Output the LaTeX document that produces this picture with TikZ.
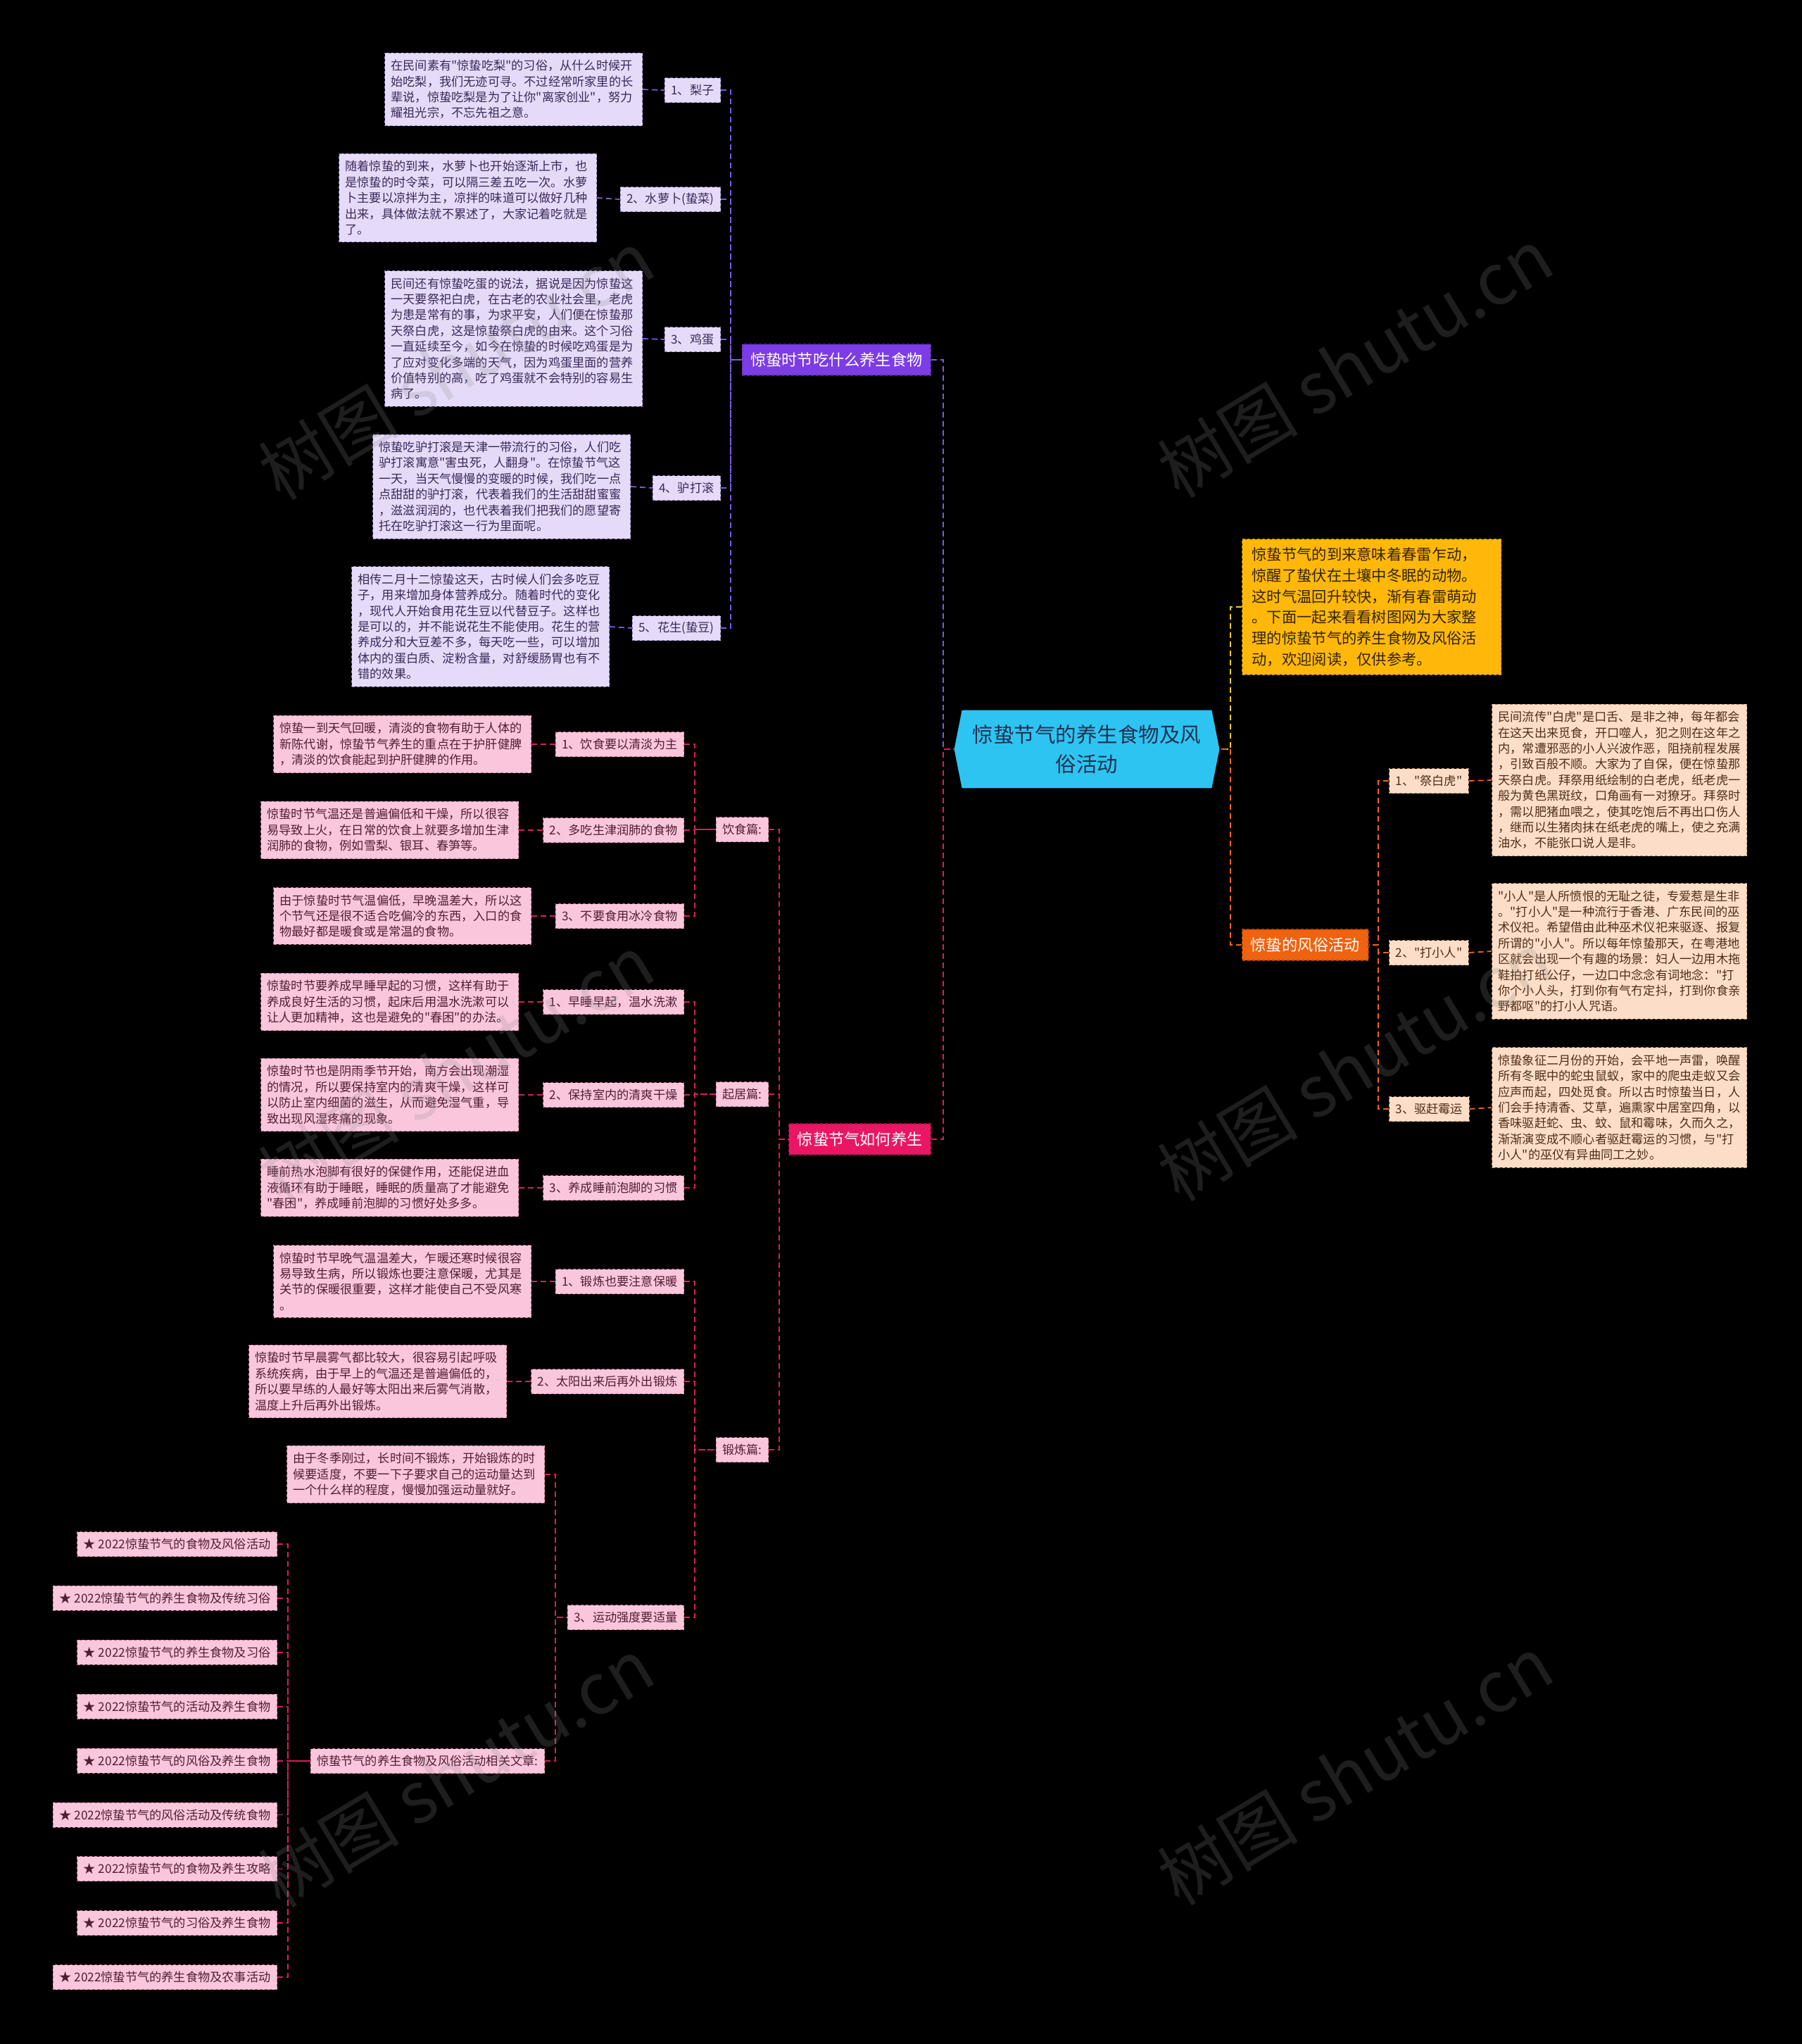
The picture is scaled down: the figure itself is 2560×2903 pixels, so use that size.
\documentclass[tikz,border=0pt]{standalone}
\usepackage{fontspec}
\setmainfont[Ligatures=TeXOff]{Noto Sans CJK SC}
\usetikzlibrary{backgrounds,calc}
\definecolor{PFill}{RGB}{229,219,248}
\definecolor{PBord}{RGB}{140,120,180}
\definecolor{PText}{RGB}{60,40,90}
\definecolor{PLine}{RGB}{125,90,225}
\definecolor{PMain}{RGB}{124,60,230}
\definecolor{KFill}{RGB}{250,198,220}
\definecolor{KBord}{RGB}{190,110,140}
\definecolor{KText}{RGB}{80,30,50}
\definecolor{KLine}{RGB}{215,30,95}
\definecolor{KMain}{RGB}{233,22,100}
\definecolor{OFill}{RGB}{252,222,200}
\definecolor{OBord}{RGB}{190,140,110}
\definecolor{OText}{RGB}{80,45,25}
\definecolor{OLine}{RGB}{240,100,30}
\definecolor{OMain}{RGB}{240,98,14}
\definecolor{YMain}{RGB}{255,184,10}
\definecolor{YLine}{RGB}{255,200,40}
\definecolor{YText}{RGB}{50,35,0}
\definecolor{RootFill}{RGB}{46,196,242}
\definecolor{RootText}{RGB}{30,50,80}
\definecolor{WM}{RGB}{140,140,140}
\newcommand\dfont{\fontsize{8.6pt}{11.2pt}\selectfont}
\newcommand\mfont{\fontsize{11.1pt}{13pt}\selectfont}
\newcommand\ifont{\fontsize{10.65pt}{14.85pt}\selectfont}
\newcommand\rfont{\fontsize{14.75pt}{21pt}\selectfont}
\tikzset{
  box/.style={rectangle, dashed, dash pattern=on 2pt off 1.5pt, line width=0.5pt, inner xsep=4.5pt, inner ysep=5pt, font=\dfont},
  ptext/.style={box, draw=PBord, fill=PFill, text=PText, text width=174pt, align=left},
  plab/.style={box, draw=PBord, fill=PFill, text=PText, minimum height=17.5pt, inner ysep=3pt},
  ktext/.style={box, draw=KBord, fill=KFill, text=KText, text width=174pt, align=left},
  klab/.style={box, draw=KBord, fill=KFill, text=KText, minimum height=17.5pt, inner ysep=3pt},
  otext/.style={box, draw=OBord, fill=OFill, text=OText, text width=172pt, align=left},
  olab/.style={box, draw=OBord, fill=OFill, text=OText, minimum height=17.5pt, inner ysep=3pt},
  mainn/.style={rectangle, dashed, dash pattern=on 2pt off 1.5pt, line width=0.6pt, text=white, font=\mfont, inner xsep=6pt, minimum height=22pt},
  conn/.style={dashed, dash pattern=on 4pt off 2.5pt, line width=0.9pt},
  pedge/.style={conn, draw=PLine},
  kedge/.style={conn, draw=KLine},
  oedge/.style={conn, draw=OLine},
  yedge/.style={conn, draw=YLine},
  wmark/.style={rotate=31, text=WM, text opacity=0.22, font=\fontsize{50pt}{50pt}\selectfont}
}
\begin{document}
\begin{tikzpicture}[x=0.5pt,y=-0.5pt]
\useasboundingbox (0,0) rectangle (2560,2903);
\begin{scope}[on background layer]
\fill[black] (0,0) rectangle (2560,2903);
\end{scope}

% root
\node[rectangle, minimum width=177pt, minimum height=55pt, align=center, text=RootText, font=\rfont, inner sep=0pt] (root) at (1544,1064) {惊蛰节气的养生食物及风\\俗活动};
\coordinate (rootL) at ([xshift=-5.5pt]root.west);
\coordinate (rootR) at ([xshift=5.5pt]root.east);
\begin{scope}[on background layer]
\fill[RootFill] (root.north west) -- (root.north east) -- (rootR) -- (root.south east) -- (root.south west) -- (rootL) -- cycle;
\end{scope}

% main branches
\node[mainn, fill=PMain, draw=PMain!70!black, anchor=east] (P) at (1323,511) {惊蛰时节吃什么养生食物};
\node[mainn, fill=KMain, draw=KMain!70!black, anchor=east] (K) at (1323,1618) {惊蛰节气如何养生};
\node[box, fill=YMain, draw=YMain!75!black, text=YText, font=\ifont, text width=170pt, align=left, inner xsep=7pt, inner ysep=6pt, anchor=west] (I) at (1764,862) {惊蛰节气的到来意味着春雷乍动，\\惊醒了蛰伏在土壤中冬眠的动物。\\这时气温回升较快，渐有春雷萌动\\。下面一起来看看树图网为大家整\\理的惊蛰节气的养生食物及风俗活\\动，欢迎阅读，仅供参考。};
\node[mainn, fill=OMain, draw=OMain!70!black, anchor=west] (O) at (1764,1342) {惊蛰的风俗活动};

\draw[pedge] (P.east) -- ++(8.5pt,0) |- (rootL);
\draw[kedge] (K.east) -- ++(8.5pt,0) |- (rootL);
\draw[yedge] (I.west) -- ++(-8pt,0) |- (rootR);
\draw[oedge] (O.west) -- ++(-8pt,0) |- (rootR);

% purple subtree
\node[plab, anchor=east] (L1) at (1024,128) {1、梨子};
\node[plab, anchor=east] (L2) at (1024,283) {2、水萝卜(蛰菜)};
\node[plab, anchor=east] (L3) at (1024,482) {3、鸡蛋};
\node[plab, anchor=east] (L4) at (1024,693) {4、驴打滚};
\node[plab, anchor=east] (L5) at (1024,892) {5、花生(蛰豆)};
\node[ptext, anchor=east] (T1) at (913,127) {在民间素有"惊蛰吃梨"的习俗，从什么时候开\\始吃梨，我们无迹可寻。不过经常听家里的长\\辈说，惊蛰吃梨是为了让你"离家创业"，努力\\耀祖光宗，不忘先祖之意。};
\node[ptext, anchor=east] (T2) at (848,281) {随着惊蛰的到来，水萝卜也开始逐渐上市，也\\是惊蛰的时令菜，可以隔三差五吃一次。水萝\\卜主要以凉拌为主，凉拌的味道可以做好几种\\出来，具体做法就不累述了，大家记着吃就是\\了。};
\node[ptext, anchor=east] (T3) at (913,481) {民间还有惊蛰吃蛋的说法，据说是因为惊蛰这\\一天要祭祀白虎，在古老的农业社会里，老虎\\为患是常有的事，为求平安，人们便在惊蛰那\\天祭白虎，这是惊蛰祭白虎的由来。这个习俗\\一直延续至今，如今在惊蛰的时候吃鸡蛋是为\\了应对变化多端的天气，因为鸡蛋里面的营养\\价值特别的高，吃了鸡蛋就不会特别的容易生\\病了。};
\node[ptext, anchor=east] (T4) at (896,691) {惊蛰吃驴打滚是天津一带流行的习俗，人们吃\\驴打滚寓意"害虫死，人翻身"。在惊蛰节气这\\一天，当天气慢慢的变暖的时候，我们吃一点\\点甜甜的驴打滚，代表着我们的生活甜甜蜜蜜\\，滋滋润润的，也代表着我们把我们的愿望寄\\托在吃驴打滚这一行为里面呢。};
\node[ptext, anchor=east] (T5) at (866,890) {相传二月十二惊蛰这天，古时候人们会多吃豆\\子，用来增加身体营养成分。随着时代的变化\\，现代人开始食用花生豆以代替豆子。这样也\\是可以的，并不能说花生不能使用。花生的营\\养成分和大豆差不多，每天吃一些，可以增加\\体内的蛋白质、淀粉含量，对舒缓肠胃也有不\\错的效果。};
\foreach \i in {1,...,5} {
  \draw[pedge] (L\i.east) -- ++(7pt,0) |- (P.west);
  \draw[pedge] (T\i.east) -- (L\i.west);
}

% pink subtree
\node[klab, anchor=east] (Y) at (1092,1178) {饮食篇:};
\node[klab, anchor=east] (Q) at (1092,1554) {起居篇:};
\node[klab, anchor=east] (D) at (1092,2059) {锻炼篇:};
\foreach \n in {Y,Q,D} {\draw[kedge] (\n.east) -- ++(7.5pt,0) |- (K.west);}

\node[klab, anchor=east] (Y1) at (972,1057) {1、饮食要以清淡为主};
\node[klab, anchor=east] (Y2) at (972,1179) {2、多吃生津润肺的食物};
\node[klab, anchor=east] (Y3) at (972,1301) {3、不要食用冰冷食物};
\node[klab, anchor=east] (Q1) at (972,1423) {1、早睡早起，温水洗漱};
\node[klab, anchor=east] (Q2) at (972,1555) {2、保持室内的清爽干燥};
\node[klab, anchor=east] (Q3) at (972,1687) {3、养成睡前泡脚的习惯};
\node[klab, anchor=east] (D1) at (972,1820) {1、锻炼也要注意保暖};
\node[klab, anchor=east] (D2) at (972,1962) {2、太阳出来后再外出锻炼};
\node[klab, anchor=east] (D3) at (972,2297) {3、运动强度要适量};
\foreach \n in {Y,Q,D} {
  \foreach \i in {1,2,3} {\draw[kedge] (\n\i.east) -- ++(7.5pt,0) |- (\n.west);}
}

\node[ktext, anchor=east] (Y1T) at (755,1057) {惊蛰一到天气回暖，清淡的食物有助于人体的\\新陈代谢，惊蛰节气养生的重点在于护肝健脾\\，清淡的饮食能起到护肝健脾的作用。};
\node[ktext, anchor=east] (Y2T) at (737,1179) {惊蛰时节气温还是普遍偏低和干燥，所以很容\\易导致上火，在日常的饮食上就要多增加生津\\润肺的食物，例如雪梨、银耳、春笋等。};
\node[ktext, anchor=east] (Y3T) at (755,1301) {由于惊蛰时节气温偏低，早晚温差大，所以这\\个节气还是很不适合吃偏冷的东西，入口的食\\物最好都是暖食或是常温的食物。};
\node[ktext, anchor=east] (Q1T) at (737,1423) {惊蛰时节要养成早睡早起的习惯，这样有助于\\养成良好生活的习惯，起床后用温水洗漱可以\\让人更加精神，这也是避免的"春困"的办法。};
\node[ktext, anchor=east] (Q2T) at (737,1555) {惊蛰时节也是阴雨季节开始，南方会出现潮湿\\的情况，所以要保持室内的清爽干燥，这样可\\以防止室内细菌的滋生，从而避免湿气重，导\\致出现风湿疼痛的现象。};
\node[ktext, anchor=east] (Q3T) at (737,1687) {睡前热水泡脚有很好的保健作用，还能促进血\\液循环有助于睡眠，睡眠的质量高了才能避免\\"春困"，养成睡前泡脚的习惯好处多多。};
\node[ktext, anchor=east] (D1T) at (755,1820) {惊蛰时节早晚气温温差大，乍暖还寒时候很容\\易导致生病，所以锻炼也要注意保暖，尤其是\\关节的保暖很重要，这样才能使自己不受风寒\\。};
\node[ktext, anchor=east] (D2T) at (720,1962) {惊蛰时节早晨雾气都比较大，很容易引起呼吸\\系统疾病，由于早上的气温还是普遍偏低的，\\所以要早练的人最好等太阳出来后雾气消散，\\温度上升后再外出锻炼。};
\foreach \n in {Y1,Y2,Y3,Q1,Q2,Q3,D1,D2} {\draw[kedge] (\n T.east) -- (\n.west);}
\node[ktext, anchor=east] (D3T) at (774,2094) {由于冬季刚过，长时间不锻炼，开始锻炼的时\\候要适度，不要一下子要求自己的运动量达到\\一个什么样的程度，慢慢加强运动量就好。};
\node[klab, anchor=east] (R) at (774,2501) {惊蛰节气的养生食物及风俗活动相关文章:};
\draw[kedge] (D3T.east) -- ++(7.5pt,0) |- (D3.west);
\draw[kedge] (R.east) -- ++(7.5pt,0) |- (D3.west);

\foreach \t [count=\i] in {2022惊蛰节气的食物及风俗活动, 2022惊蛰节气的养生食物及传统习俗, 2022惊蛰节气的养生食物及习俗, 2022惊蛰节气的活动及养生食物, 2022惊蛰节气的风俗及养生食物, 2022惊蛰节气的风俗活动及传统食物, 2022惊蛰节气的食物及养生攻略, 2022惊蛰节气的习俗及养生食物, 2022惊蛰节气的养生食物及农事活动} {
  \node[klab, anchor=east] (S\i) at (394,{2193+(\i-1)*76.9}) {★ \t};
  \draw[kedge] (S\i.east) -- ++(7.5pt,0) |- (R.west);
}

% orange subtree
\node[olab, anchor=west] (J1) at (1973,1109) {1、"祭白虎"};
\node[olab, anchor=west] (J2) at (1973,1353) {2、"打小人"};
\node[olab, anchor=west] (J3) at (1973,1575) {3、驱赶霉运};
\node[otext, anchor=west] (JT1) at (2119,1108) {民间流传"白虎"是口舌、是非之神，每年都会\\在这天出来觅食，开口噬人，犯之则在这年之\\内，常遭邪恶的小人兴波作恶，阻挠前程发展\\，引致百般不顺。大家为了自保，便在惊蛰那\\天祭白虎。拜祭用纸绘制的白老虎，纸老虎一\\般为黄色黑斑纹，口角画有一对獠牙。拜祭时\\，需以肥猪血喂之，使其吃饱后不再出口伤人\\，继而以生猪肉抹在纸老虎的嘴上，使之充满\\油水，不能张口说人是非。};
\node[otext, anchor=west] (JT2) at (2119,1351) {"小人"是人所愤恨的无耻之徒，专爱惹是生非\\。"打小人"是一种流行于香港、广东民间的巫\\术仪祀。希望借由此种巫术仪祀来驱逐、报复\\所谓的"小人"。所以每年惊蛰那天，在粤港地\\区就会出现一个有趣的场景：妇人一边用木拖\\鞋拍打纸公仔，一边口中念念有词地念："打\\你个小人头，打到你有气冇定抖，打到你食亲\\野都呕"的打小人咒语。};
\node[otext, anchor=west] (JT3) at (2119,1573) {惊蛰象征二月份的开始，会平地一声雷，唤醒\\所有冬眠中的蛇虫鼠蚁，家中的爬虫走蚁又会\\应声而起，四处觅食。所以古时惊蛰当日，人\\们会手持清香、艾草，遍熏家中居室四角，以\\香味驱赶蛇、虫、蚊、鼠和霉味，久而久之，\\渐渐演变成不顺心者驱赶霉运的习惯，与"打\\小人"的巫仪有异曲同工之妙。};
\foreach \i in {1,2,3} {
  \draw[oedge] (J\i.west) -- ++(-7.5pt,0) |- (O.east);
  \draw[oedge] (J\i.east) -- (JT\i.west);
}

% watermarks
\foreach \p in {(648,518),(648,1518),(648,2517),(1925,515),(1925,1514),(1925,2514)} {
  \node[wmark] at \p {树图 shutu.cn};
}
\end{tikzpicture}
\end{document}
